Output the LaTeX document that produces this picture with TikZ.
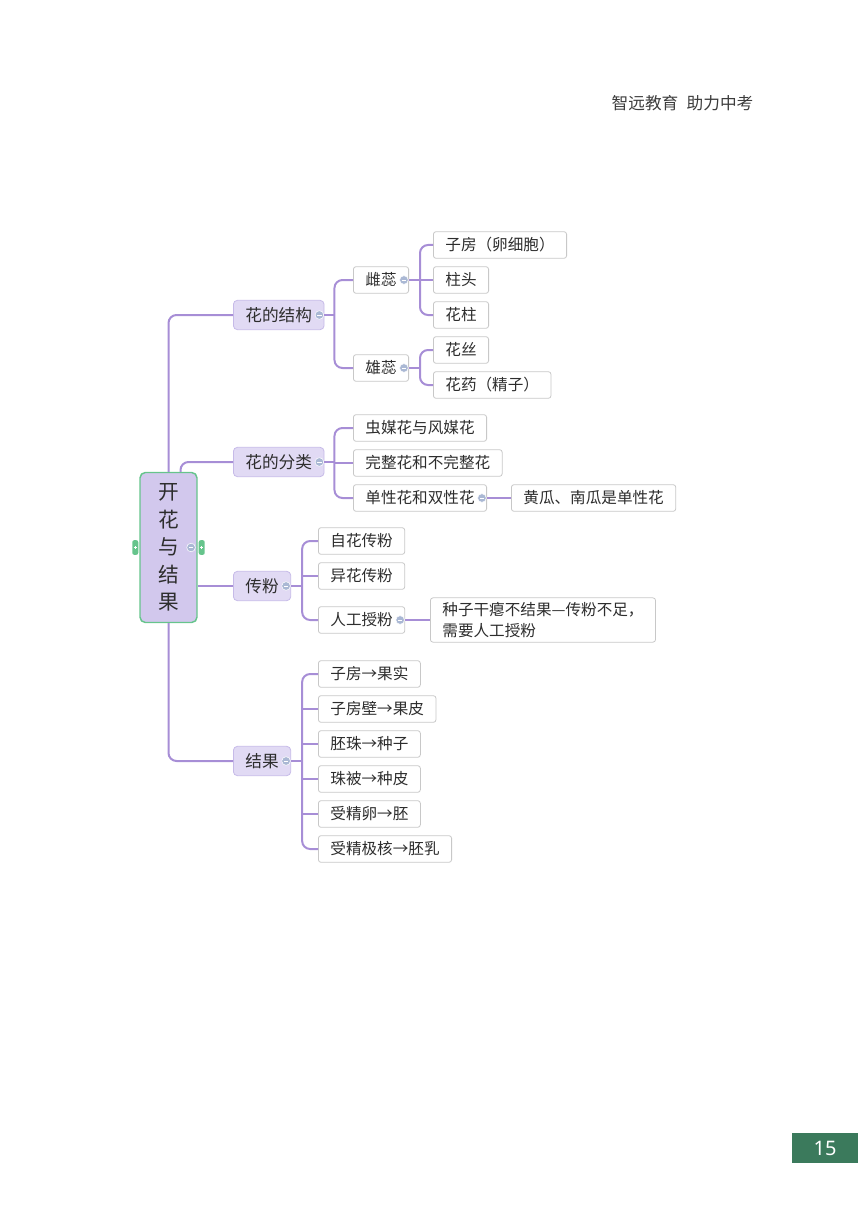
\documentclass[tikz,border=0pt]{standalone}
\usepackage{fontspec}
\setmainfont{Noto Sans CJK SC}
\newfontfamily\numfont{Noto Sans}
\usepackage{tikz}
\usetikzlibrary{positioning, calc}
\definecolor{linkpurple}{RGB}{167,142,214}
\definecolor{topicfill}{RGB}{225,218,244}
\definecolor{topicdraw}{RGB}{198,186,232}
\definecolor{leafdraw}{RGB}{200,200,200}
\definecolor{rootfill}{RGB}{210,200,237}
\definecolor{rootgreen}{RGB}{102,196,140}
\definecolor{foldgray}{RGB}{170,184,212}
\definecolor{textdark}{RGB}{45,45,45}
\definecolor{headgray}{RGB}{60,60,60}
\definecolor{pagegreen}{RGB}{59,122,92}
\tikzset{
  rootbox/.style={rectangle, draw=rootgreen, fill=rootfill, rounded corners=4pt,
    line width=1.1pt, minimum width=42.75pt, minimum height=112.5pt,
    align=center, text=textdark, font=\fontsize{15.5}{20.6}\selectfont},
  topic/.style={rectangle, draw=topicdraw, fill=topicfill, rounded corners=3pt,
    line width=0.6pt, inner xsep=9pt, minimum height=22pt, anchor=west,
    text=textdark, font=\fontsize{12.5}{15}\selectfont},
  leaf/.style={rectangle, draw=leafdraw, fill=white, rounded corners=2pt,
    line width=0.6pt, inner xsep=9pt, minimum height=20pt, anchor=west,
    text=textdark, font=\fontsize{11.7}{15.75}\selectfont},
  fold/.style={circle, fill=foldgray, draw=white, line width=0.4pt,
    inner sep=0pt, minimum size=6.5pt,
    path picture={\draw[white, line width=0.7pt]
      ([xshift=-1.7pt]path picture bounding box.center) --
      ([xshift=1.7pt]path picture bounding box.center);}},
  tab/.style={rectangle, fill=rootgreen, rounded corners=1.5pt, inner sep=0pt,
    minimum width=4.5pt, minimum height=11pt,
    path picture={\draw[white, line width=0.4pt]
      ([yshift=-1.2pt]path picture bounding box.center) --
      ([yshift=1.2pt]path picture bounding box.center)
      ([xshift=-1.2pt]path picture bounding box.center) --
      ([xshift=1.2pt]path picture bounding box.center);}},
  link/.style={draw=linkpurple, line width=1.5pt, rounded corners=6pt},
  pagebox/.style={rectangle, fill=pagegreen, minimum width=49.5pt,
    minimum height=22.5pt, inner sep=0pt, text=white,
    font=\numfont\fontsize{15}{16}\selectfont}
}

\begin{document}
\begin{tikzpicture}[x=0.75pt, y=-0.75pt]
  \useasboundingbox (0,0) rectangle (860,1216);

  % header and page number
  \node[anchor=west, text=headgray, font=\fontsize{12.5}{14}\selectfont] (head)
    at (607,103) {智远教育\hspace{0.5em}助力中考};
  \node[pagebox] (pageno) at (825,1148) {15};

  % central topic
  \node[rootbox] (kh) at (168.5,547.5) {开\\花\\与\\结\\果};

  % main topics
  \node[topic] (jiegou)   at (233,315) {花的结构};
  \node[topic] (fenlei)   at (233,462) {花的分类};
  \node[topic] (chuanfen) at (233,586) {传粉};
  \node[topic] (jieguo)   at (233,761) {结果};

  % flower structure
  \node[leaf] (cirui)    at (353,280) {雌蕊};
  \node[leaf] (xiongrui) at (353,368) {雄蕊};
  \node[leaf] (zifang)   at (433,245) {子房（卵细胞）};
  \node[leaf] (zhutou)   at (433,280) {柱头};
  \node[leaf] (huazhu)   at (433,315) {花柱};
  \node[leaf] (huasi)    at (433,350) {花丝};
  \node[leaf] (huayao)   at (433,385) {花药（精子）};

  % flower types
  \node[leaf] (chongmei) at (353,428) {虫媒花与风媒花};
  \node[leaf] (wanzheng) at (353,463) {完整花和不完整花};
  \node[leaf] (danxing)  at (353,498) {单性花和双性花};
  \node[leaf] (huanggua) at (511,498) {黄瓜、南瓜是单性花};

  % pollination
  \node[leaf] (zihua)   at (318,541) {自花传粉};
  \node[leaf] (yihua)   at (318,576) {异花传粉};
  \node[leaf] (rengong) at (318,620) {人工授粉};
  \node[leaf, align=left] (ganbie) at (430,620)
    {种子干瘪不结果—传粉不足，\\需要人工授粉};

  % fruit
  \node[leaf] (guoshi)  at (318,674) {子房→果实};
  \node[leaf] (guopi)   at (318,709) {子房壁→果皮};
  \node[leaf] (zhongzi) at (318,744) {胚珠→种子};
  \node[leaf] (zhongpi) at (318,779) {珠被→种皮};
  \node[leaf] (pei)     at (318,814) {受精卵→胚};
  \node[leaf] (peiru)   at (318,849) {受精极核→胚乳};

  % connectors from the central topic
  \draw[link] (kh.north) |- (jiegou.west);
  \draw[link] ($(kh.north)+(12,0)$) |- (fenlei.west);
  \draw[link] (kh.east |- chuanfen.west) -- (chuanfen.west);
  \draw[link] (kh.south) |- (jieguo.west);

  % buses
  \coordinate (bjiegou)   at ($(jiegou.east)+(10,0)$);
  \coordinate (bcirui)    at ($(cirui.east)+(11,0)$);
  \coordinate (bxiongrui) at ($(xiongrui.east)+(11,0)$);
  \coordinate (bfenlei)   at ($(fenlei.east)+(10,0)$);
  \coordinate (bchuanfen) at ($(chuanfen.east)+(11,0)$);
  \coordinate (bjieguo)   at ($(jieguo.east)+(11,0)$);

  \draw[link] (jiegou.east) -- (bjiegou);
  \draw[link] (cirui.west) -| (bjiegou) |- (xiongrui.west);

  \draw[link] (cirui.east) -- (bcirui);
  \draw[link] (zifang.west) -| (bcirui) |- (huazhu.west);
  \draw[link] (bcirui |- zhutou.west) -- (zhutou.west);

  \draw[link] (xiongrui.east) -- (bxiongrui);
  \draw[link] (huasi.west) -| (bxiongrui) |- (huayao.west);

  \draw[link] (fenlei.east) -- (bfenlei);
  \draw[link] (chongmei.west) -| (bfenlei) |- (danxing.west);
  \draw[link] (bfenlei |- wanzheng.west) -- (wanzheng.west);
  \draw[link] (danxing.east) -- (huanggua.west);

  \draw[link] (chuanfen.east) -- (bchuanfen);
  \draw[link] (zihua.west) -| (bchuanfen) |- (rengong.west);
  \draw[link] (bchuanfen |- yihua.west) -- (yihua.west);
  \draw[link] (rengong.east) -- (ganbie.west);

  \draw[link] (jieguo.east) -- (bjieguo);
  \draw[link] (guoshi.west) -| (bjieguo) |- (peiru.west);
  \foreach \c in {guopi, zhongzi, zhongpi, pei}
    \draw[link] (bjieguo |- \c.west) -- (\c.west);

  % fold markers
  \node[fold] (fkh) at ([xshift=-5pt]kh.east) {};
  \node[tab] (tabl) at ([xshift=-3pt]kh.west) {};
  \node[tab] (tabr) at ([xshift=3pt]kh.east) {};
  \foreach \n in {jiegou, fenlei, chuanfen, jieguo, cirui, xiongrui, danxing, rengong}
    \node[fold] (f\n) at ([xshift=-3.8pt]\n.east) {};
\end{tikzpicture}
\end{document}
